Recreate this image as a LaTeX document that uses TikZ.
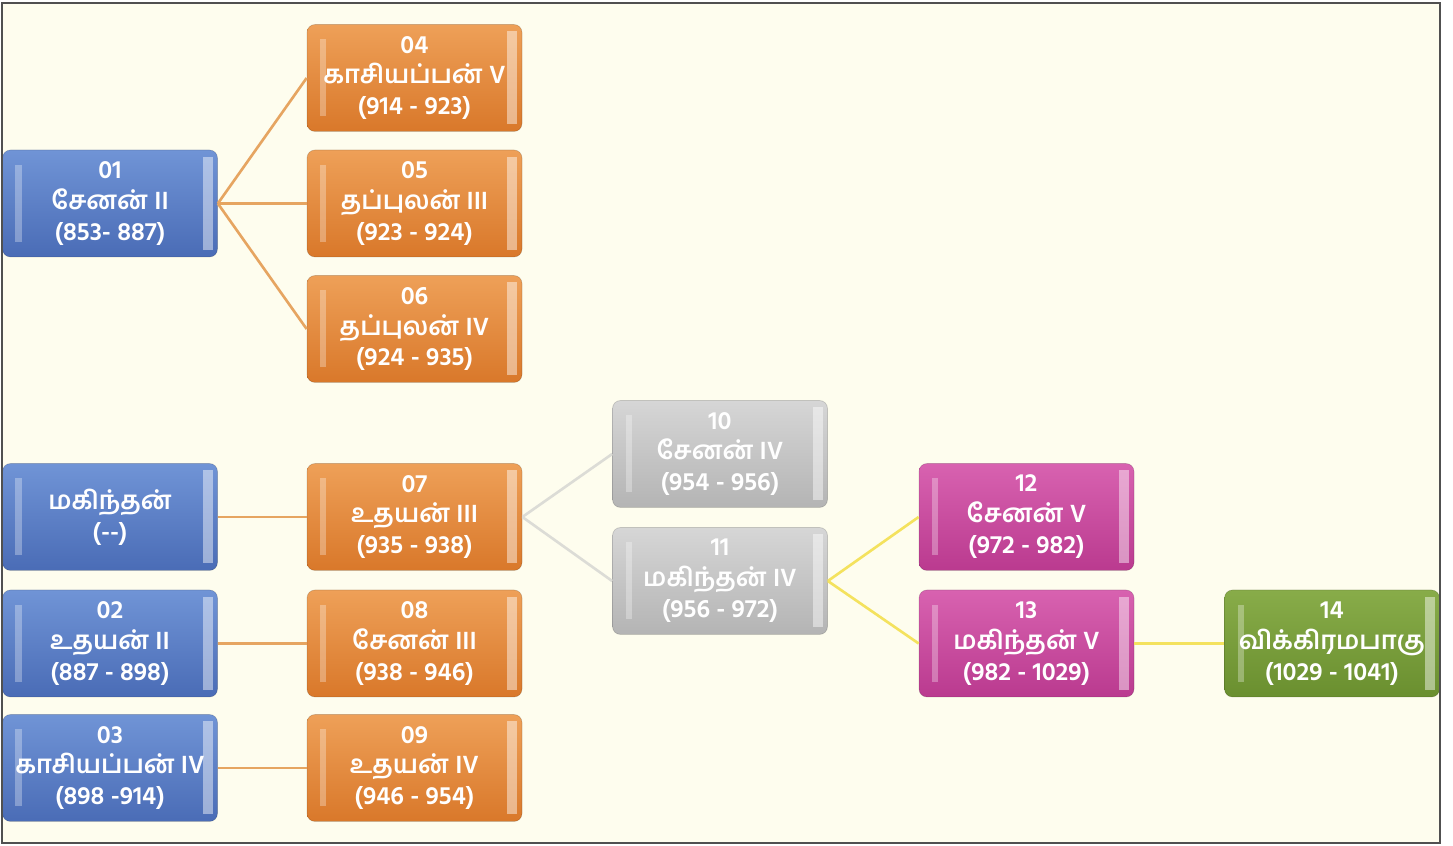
\documentclass[tikz,border=0pt]{standalone}
\usepackage{fontspec}
\newfontfamily\tamilfont[Script=Tamil]{Hind Madurai}
\usetikzlibrary{graphs}
\definecolor{paper}{HTML}{FEFDEE}
\definecolor{frameline}{HTML}{505050}
\definecolor{blueT}{HTML}{7094D6}
\definecolor{blueB}{HTML}{4A6CB6}
\definecolor{orangeT}{HTML}{EEA058}
\definecolor{orangeB}{HTML}{D9782A}
\definecolor{grayT}{HTML}{D6D6D6}
\definecolor{grayB}{HTML}{B4B4B4}
\definecolor{pinkT}{HTML}{D862B0}
\definecolor{pinkB}{HTML}{BA3A8F}
\definecolor{greenT}{HTML}{88AC49}
\definecolor{greenB}{HTML}{6A8F2F}
\definecolor{lineO}{HTML}{E6A561}
\definecolor{lineG}{HTML}{DCDCD6}
\definecolor{lineY}{HTML}{F4E25E}
\tikzset{
  bevel/.style={path picture={
    \fill[white,opacity=0.3,sharp corners] ([xshift=0.26cm,yshift=0.3cm]path picture bounding box.south west) rectangle ([xshift=0.38cm,yshift=-0.3cm]path picture bounding box.north west);
    \fill[white,opacity=0.45,sharp corners] ([xshift=-0.3cm,yshift=0.14cm]path picture bounding box.south east) rectangle ([xshift=-0.1cm,yshift=-0.14cm]path picture bounding box.north east);
  }},
  king/.style={rounded corners=0.16cm, minimum width=4.3cm, minimum height=2.14cm,
    inner sep=0pt, align=center, text=white, draw=black, draw opacity=0.15,
    font=\tamilfont\bfseries\fontsize{14.5}{17.6}\selectfont, bevel},
  blueking/.style={king, top color=blueT, bottom color=blueB},
  orangeking/.style={king, top color=orangeT, bottom color=orangeB},
  grayking/.style={king, top color=grayT, bottom color=grayB},
  pinkking/.style={king, top color=pinkT, bottom color=pinkB},
  greenking/.style={king, top color=greenT, bottom color=greenB},
  fork/.style={to path={(\tikztostart.east) -- (\tikztotarget.west)}},
  orangeline/.style={draw=lineO, line width=1.5pt},
  grayline/.style={draw=lineG, line width=1.5pt},
  yellowline/.style={draw=lineY, line width=1.5pt}
}
\begin{document}
\begin{tikzpicture}
\useasboundingbox (0,0) rectangle (29.06,16.92);
\begin{scope}
\clip (0.04,0.06) rectangle (28.8,16.86);
\fill[paper] (0.04,0.06) rectangle (28.8,16.86);
\node (k01) [blueking] at (2.2,12.85) {01\\சேனன் II\\(853- 887)};
\node (m) [blueking] at (2.2,6.58) {மகிந்தன்\\(--)};
\node (k02) [blueking] at (2.2,4.05) {02\\உதயன் II\\(887 - 898)};
\node (k03) [blueking] at (2.2,1.56) {03\\காசியப்பன் IV\\(898 -914)};
\node (k04) [orangeking] at (8.29,15.36) {04\\காசியப்பன் V\\(914 - 923)};
\node (k05) [orangeking] at (8.29,12.85) {05\\தப்புலன் III\\(923 - 924)};
\node (k06) [orangeking] at (8.29,10.34) {06\\தப்புலன் IV\\(924 - 935)};
\node (k07) [orangeking] at (8.29,6.58) {07\\உதயன் III\\(935 - 938)};
\node (k08) [orangeking] at (8.29,4.05) {08\\சேனன் III\\(938 - 946)};
\node (k09) [orangeking] at (8.29,1.56) {09\\உதயன் IV\\(946 - 954)};
\node (k10) [grayking] at (14.4,7.84) {10\\சேனன் IV\\(954 - 956)};
\node (k11) [grayking] at (14.4,5.30) {11\\மகிந்தன் IV\\(956 - 972)};
\node (k12) [pinkking] at (20.53,6.58) {12\\சேனன் V\\(972 - 982)};
\node (k13) [pinkking] at (20.53,4.05) {13\\மகிந்தன் V\\(982 - 1029)};
\node (k14) [greenking] at (26.64,4.05) {14\\விக்கிரமபாகு\\(1029 - 1041)};
\graph [edges={fork, orangeline}] { (k01) -- {(k04), (k05), (k06)}; (m) -- (k07); (k02) -- (k08); (k03) -- (k09) };
\graph [edges={fork, grayline}] { (k07) -- {(k10), (k11)} };
\graph [edges={fork, yellowline}] { (k11) -- {(k12), (k13)}; (k13) -- (k14) };
\end{scope}
\draw[frameline, line width=1pt] (0.04,0.06) rectangle (28.8,16.86);
\end{tikzpicture}
\end{document}
